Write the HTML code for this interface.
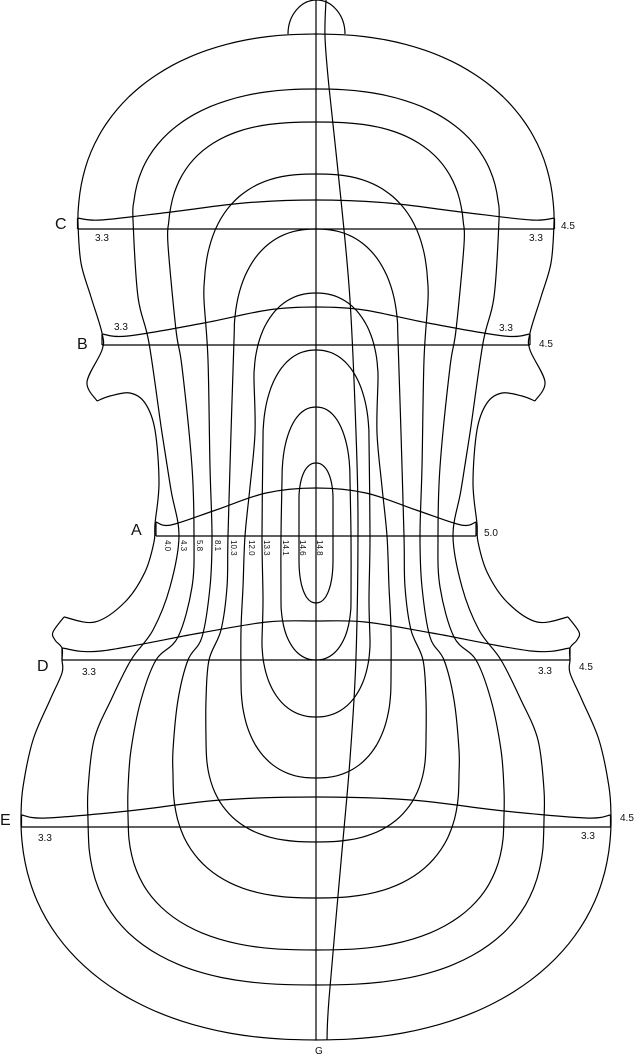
<!DOCTYPE html>
<html><head><meta charset="utf-8">
<style>
html,body{margin:0;padding:0;background:#fff;}
svg{display:block}
text{font-family:"Liberation Sans",sans-serif;fill:#111}
</style></head>
<body>
<svg id="s" width="637" height="1056" viewBox="0 0 637 1056" xmlns="http://www.w3.org/2000/svg">
<g id="g" fill="none" stroke="#000" stroke-width="1.2"></g>
<g>
<text x="55" y="229" font-size="16">C</text>
<text x="95" y="241" font-size="10">3.3</text>
<text x="529" y="241" font-size="10">3.3</text>
<text x="561" y="229" font-size="10">4.5</text>
<text x="77" y="349" font-size="16">B</text>
<text x="114" y="330" font-size="10">3.3</text>
<text x="499" y="331" font-size="10">3.3</text>
<text x="539" y="347" font-size="10">4.5</text>
<text x="131" y="535" font-size="16">A</text>
<text x="484" y="536" font-size="10">5.0</text>
<text x="37" y="671" font-size="16">D</text>
<text x="82" y="675" font-size="10">3.3</text>
<text x="538" y="674" font-size="10">3.3</text>
<text x="579" y="670" font-size="10">4.5</text>
<text x="0" y="825" font-size="16">E</text>
<text x="38" y="841" font-size="10">3.3</text>
<text x="581" y="839" font-size="10">3.3</text>
<text x="620" y="821" font-size="10">4.5</text>
<text x="315" y="1054" font-size="10">G</text>
</g>
<g font-size="8">
<text transform="translate(165,540) rotate(90)">4.0</text>
<text transform="translate(181,540) rotate(90)">4.3</text>
<text transform="translate(197,540) rotate(90)">5.8</text>
<text transform="translate(215,540) rotate(90)">8.1</text>
<text transform="translate(231,540) rotate(90)">10.3</text>
<text transform="translate(249,540) rotate(90)">12.0</text>
<text transform="translate(264,540) rotate(90)">13.3</text>
<text transform="translate(283,540) rotate(90)">14.1</text>
<text transform="translate(300,540) rotate(90)">14.6</text>
<text transform="translate(317,540) rotate(90)">14.8</text>
</g>
</svg>
<script>
var C=316, g=document.getElementById('g'), NS='http://www.w3.org/2000/svg';
function add(d){var p=document.createElementNS(NS,'path');p.setAttribute('d',d);g.appendChild(p);}
function cr(pts,closed){
  var n=pts.length,d='M'+pts[0][0].toFixed(1)+','+pts[0][1].toFixed(1);
  var m=closed?n:n-1;
  for(var i=0;i<m;i++){
    var p0=pts[closed?(i-1+n)%n:Math.max(i-1,0)],p1=pts[i],p2=pts[(i+1)%n],p3=pts[closed?(i+2)%n:Math.min(i+2,n-1)];
    var c1=[p1[0]+(p2[0]-p0[0])/6,p1[1]+(p2[1]-p0[1])/6],c2=[p2[0]-(p3[0]-p1[0])/6,p2[1]-(p3[1]-p1[1])/6];
    d+='C'+c1[0].toFixed(1)+','+c1[1].toFixed(1)+' '+c2[0].toFixed(1)+','+c2[1].toFixed(1)+' '+p2[0].toFixed(1)+','+p2[1].toFixed(1);
  }
  return d+(closed?'Z':'');
}
// superellipse quarter: from center (t=0) to side (t=90deg)
function se(rx,ry,yc,n,top,steps){
  steps=steps||14;var a=[];
  for(var i=0;i<=steps;i++){
    var t=i/steps*Math.PI/2;
    var x=rx*Math.pow(Math.sin(t),2/n), y=ry*Math.pow(Math.cos(t),2/n);
    a.push([x, top?yc-y:yc+y]);
  }
  return a;
}
function contour(top,mid,bot){
  var r=top.concat(mid).concat(bot.slice().reverse());
  closedC(r);
}
function closedC(r){
  var pts=[];
  for(var i=0;i<r.length;i++)pts.push([C+r[i][0],r[i][1]]);
  for(var i=r.length-2;i>0;i--)pts.push([C-r[i][0],r[i][1]]);
  add(cr(pts,true));
}
function sym(r){
  add(cr(r.map(function(p){return [C+p[0],p[1]]}),false));
  add(cr(r.map(function(p){return [C-p[0],p[1]]}),false));
}
// outline
sym(se(238,189,223,2.2,true,18).concat([[235,263],[225,297],[214,333],[214,350],[229,382],[219,401]]));
sym([[219,401],[206,396],[186,393],[171,403],[161,430],[157,483],[161,524],[162,542],[171,572],[191,602],[221,622],[252,617]]);
sym([[252,617],[263,632],[261,640],[254,648],[254,660],[254,673],[266,700],[283,740],[293,787]].concat(se(295,223,817,2.2,false,18).reverse()));
// button
add('M288,34 A28.5 34 0 0 1 345,34');
// contours
contour(se(183,131,220,2.3,true),[[178,297],[167,343],[154,433],[145,490],[137,536],[146,587],[163,630],[185,660],[205,700],[222,740],[228,790]],se(228,165,820,2.5,false));
contour(se(148,123,245,2.6,true),[[140,330],[134,367],[124,467],[122,536],[124,587],[138,637],[160,660],[175,700],[185,750],[188,790]],se(188,135,815,2.5,false));
contour(se(112,126,300,2.5,true),[[108,360],[106,467],[104,536],[106,587],[114,637],[128,660],[138,700],[143,750]],se(143,123,775,2.5,false));
contour(se(82,111,340,2.3,true),[[85,433],[88,536],[89,587],[95,630],[107,660],[110,700]],se(110,102,740,2.5,false));
contour(se(62,87,380,2.2,true),[[61,433],[66,487],[71,536],[73,587],[75,630]],se(75,98,680,2.3,false));
contour(se(53,90,440,2.2,true),[[54,536],[53,600]],se(54,77,640,2.2,false));
contour(se(34,73,480,2.2,true,10),[[35,536]],se(35,60,600,2.2,false,10));
contour(se(17,37,500,2.2,true,8),[[17,536]],se(17,43,560,2.2,false,8));
// center line
add('M'+C+',0 L'+C+',1040');
// wavy line
add(cr([[326,0],[325,37],[329,87],[341,200],[350,300],[356,433],[358,523],[356,657],[350,759],[341,862],[329,999],[327,1040]],false));
// cross sections
function arch(r,yl){
  var pts=[];
  for(var i=0;i<r.length;i++)pts.push([C-r[i][0],r[i][1]]);
  for(var i=r.length-2;i>=0;i--)pts.push([C+r[i][0],r[i][1]]);
  add(cr(pts,false));
  var e=r[0][0];
  add('M'+(C-e)+','+yl+' L'+(C+e)+','+yl);
  add('M'+(C-e)+','+r[0][1]+' L'+(C-e)+','+yl+' M'+(C+e)+','+r[0][1]+' L'+(C+e)+','+yl);
}
arch([[238.5,218],[215,220],[145,212],[72,203],[0,200]],229);
arch([[214,334],[188,336],[112,323],[48,310],[0,307]],345);
arch([[160,522],[145,525],[100,510],[50,493],[0,488]],536);
arch([[254,648],[215,651],[116,633],[49,622],[0,621]],660);
arch([[294.5,815],[270,818],[188,811],[95,800],[0,797]],827);
</script>
</body></html>
